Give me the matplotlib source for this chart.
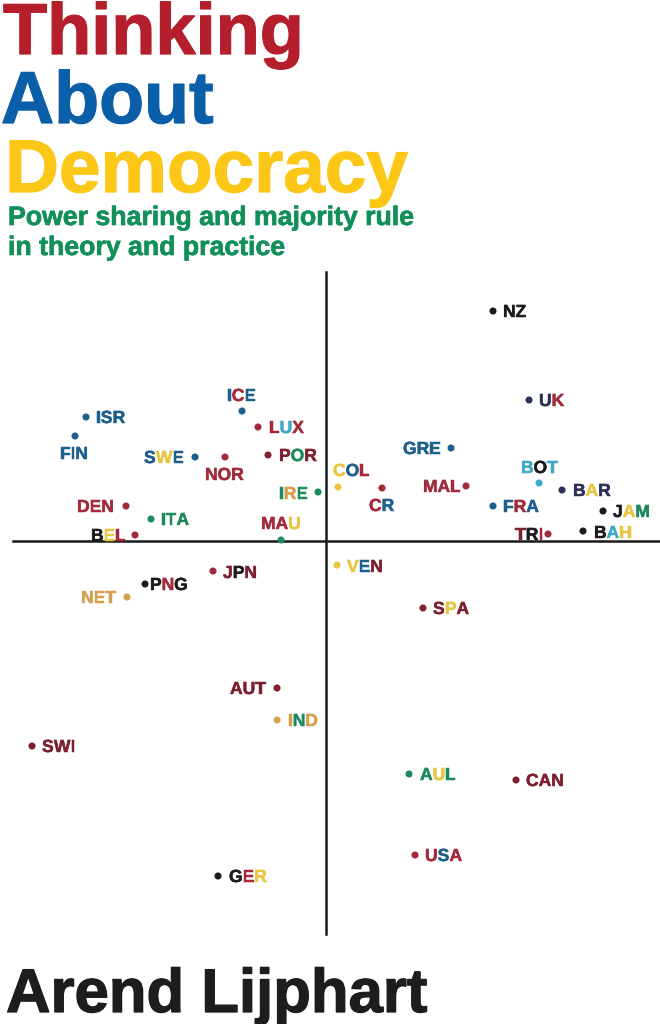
import matplotlib
matplotlib.use("Agg")
import matplotlib.pyplot as plt
import matplotlib.patheffects as pe
from matplotlib.font_manager import FontProperties
from matplotlib.transforms import Affine2D

W, H = 660, 1024
PALETTE = dict(R="#a32a3a", D="#7d2030", B="#1f5f8c", Y="#e9c640", G="#1c8a5c", K="#1b1b1f",
               O="#d6a04e", C="#3fa8c6", N="#2b3157")

countries = ["NZ","UK","ISR","FIN","ICE","LUX","SWE","NOR","POR","GRE","COL","CR","MAL","BOT","BAR","FRA","JAM","DEN",
             "ITA","IRE","MAU","BEL","TRI","BAH","VEN","JPN","PNG","NET","SPA","AUT","IND","SWI","AUL","CAN","USA","GER"]
x_values = [1.67,2.03,-2.40,-2.51,-0.84,-0.68,-1.31,-1.01,-0.58,1.25,0.12,0.56,1.40,2.13,2.36,1.67,2.77,-2.00,
            -1.75,-0.08,-0.45,-1.91,2.22,2.57,0.11,-1.13,-1.81,-1.99,0.97,-0.49,-0.49,-2.94,0.83,1.90,0.89,-1.08]
y_values = [2.30,1.41,1.24,1.05,1.30,1.14,0.84,0.84,0.86,0.93,0.54,0.53,0.55,0.58,0.51,0.35,0.30,0.35,
            0.22,0.49,0.01,0.06,0.07,0.10,-0.24,-0.30,-0.43,-0.56,-0.67,-1.47,-1.79,-2.05,-2.33,-2.39,-3.14,-3.35]
dot_colors = ["K","N","B","B","B","R","B","R","D","B","Y","R","R","C","N","B","K","R",
              "G","G","G","R","R","K","Y","R","K","O","D","D","O","D","G","D","R","K"]
letter_colors = ["KK","NR","BBB","BBB","BRB","RCR","BYB","RRR","DGD","BBB","YBR","RB","RRR","CKC","NYN","BRB","KYG","RRR",
                 "GGG","GOG","RRY","KYR","DKR","KCY","YBD","DKD","KRK","OOO","DYD","DDD","OGO","DDD","GYG","DDD","RBR","KRY"]
label_left = [503,539,96,60,227,269,144,205,279,403,333,369,423,521,573,503,613,77,
              161,279,261,91,515,594,347,223,150,81,433,230,288,42,420,526,425,229]
label_mid = [311,400,417,453,395,427,457,474,455,448,470,505,486,467,490,506,511,506,
             519,493,523,535,534,532,566,572,584,597,608,688,720,746,774,780,855,876]

title_lines = ["Thinking", "About", "Democracy"]
title_colors = ["#b41f2b", "#0b5fa9", "#fcc717"]
title_pos = [(3, 54), (1, 123), (5, 192)]
title_sizes = [52, 53, 53.8]
subtitle_lines = ["Power sharing and majority rule", "in theory and practice"]
subtitle_pos = [(8, 225), (8, 255)]
author = "Arend Lijphart"

fig = plt.figure(figsize=(W / 100, H / 100), dpi=100, facecolor="white")
ax = fig.add_axes([0, 0, 1, 1])
ax.set_xlim(-3.26, 3.34)
ax.set_ylim(-4.83, 5.41)
ax.patch.set_visible(False)
for side in ("top", "right"):
    ax.spines[side].set_visible(False)
for side, bounds in (("left", (-3.93, 2.69)), ("bottom", (-3.13, 3.33))):
    ax.spines[side].set_position("zero")
    ax.spines[side].set_bounds(*bounds)
    ax.spines[side].set_linewidth(1.8)
    ax.spines[side].set_color("#1a1a1a")
ax.set_xticks([])
ax.set_yticks([])

ax.scatter(x_values, y_values, s=26, linewidths=0, zorder=4,
           c=[PALETTE[c] for c in dot_colors])

page = Affine2D().scale(1, -1).translate(0, H)   # page pixels, y downward
family = ["Liberation Sans", "DejaVu Sans"]
renderer = fig.canvas.get_renderer()


def fatten(color, lw):
    return [pe.withStroke(linewidth=lw, foreground=color)]


label_font = FontProperties(family=family, weight="bold", size=12.6)
for name, cols, left, mid in zip(countries, letter_colors, label_left, label_mid):
    for i, (ch, col) in enumerate(zip(name, cols)):
        adv = renderer.get_text_width_height_descent(name[:i], label_font, False)[0] if i else 0
        fig.text(left + adv, mid + 6, ch, fontproperties=label_font, color=PALETTE[col],
                 transform=page, ha="left", va="baseline", zorder=3,
                 path_effects=fatten(PALETTE[col], 0.35))

for line, col, (px, py), size in zip(title_lines, title_colors, title_pos, title_sizes):
    fig.text(px, py, line, transform=page, family=family, weight="bold", size=size, color=col,
             va="baseline", path_effects=fatten(col, 0.9))
for line, (px, py) in zip(subtitle_lines, subtitle_pos):
    fig.text(px, py, line, transform=page, family=family, weight="bold", size=19.2, color="#13905a",
             va="baseline", path_effects=fatten("#13905a", 0.5))
fig.text(6, 1012, author, transform=page, family=family, weight="bold", size=44.4, color="#1e1c1d",
         va="baseline", path_effects=fatten("#1e1c1d", 0.9))

fig.savefig("out.png", dpi=100, facecolor="white")
